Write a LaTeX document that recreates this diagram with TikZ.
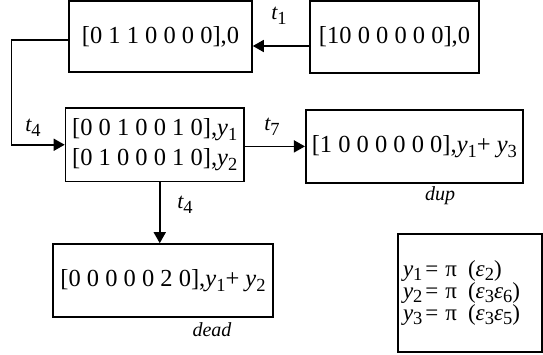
\documentclass[tikz,border=0pt]{standalone}
\usepackage{fontspec}
\setmainfont{Liberation Serif}
\usetikzlibrary{arrows.meta}
\newcommand{\sbs}[1]{\raisebox{-0.2em}{\upshape\fontsize{18.5}{18}\selectfont #1}}
\newcommand{\vy}[1]{\textit{y}\sbs{#1}}
\newcommand{\ve}[1]{\textit{ε}\sbs{#1}}
\newcommand{\eqline}[2]{\vy{#1}\hspace{3pt}=\hspace{7pt}π\hspace{11pt}(#2)}
\begin{document}
\begin{tikzpicture}[x=1pt,y=-1pt,
  box/.style={draw,line width=1.6pt,inner sep=0pt,font=\fontsize{24.5}{30}\selectfont},
  arr/.style={line width=1.6pt,-{Triangle[length=11pt,width=12pt]}},
  lbl/.style={font=\fontsize{22}{22}\selectfont\itshape},
  note/.style={font=\fontsize{20}{20}\selectfont\itshape}]
\useasboundingbox (0,0) rectangle (543,355);
\node[box,minimum width=183pt,minimum height=71pt] (A) at (160.5,36.5) {[0 1 1 0 0 0 0],0};
\node[box,minimum width=169pt,minimum height=72pt] (B) at (394.5,37) {[10 0 0 0 0 0],0};
\node[box,minimum width=178.5pt,minimum height=73.5pt,align=left] (C) at (154.75,144.75)
  {[0 0 1 0 0 1 0],\vy{1}\\{[}0 1 0 0 0 1 0],\vy{2}};
\node[box,minimum width=217.3pt,minimum height=72.7pt] (D) at (414.4,146.4)
  {\raisebox{5pt}{[1 0 0 0 0 0 0],\vy{1}+ \vy{3}}};
\node[box,minimum width=220pt,minimum height=73pt] (E) at (163,280.5)
  {\raisebox{2pt}{[0 0 0 0 0 2 0],\vy{1}+ \vy{2}}};
\node[box,minimum width=144pt,minimum height=117.7pt,inner xsep=5pt,text width=134pt,align=left,
  font=\fontsize{23}{22}\selectfont] (F) at (470,292.9)
  {\eqline{1}{\ve{2}}\\\eqline{2}{\ve{3}\ve{6}}\\\eqline{3}{\ve{3}\ve{5}}};
\coordinate (bw) at ([yshift=-9pt]B.west);
\draw[arr] (bw) -- (bw -| A.east);
\coordinate (aw) at ([yshift=-3.5pt]A.west);
\draw[arr] (aw) -- ++(-56.7,0) |- (C.west);
\draw[arr] (C.east |- D.west) -- (D.west);
\coordinate (cs) at ([xshift=5pt]C.south);
\draw[arr] (cs) -- (cs |- E.north);
\node[lbl] (t1) at (279,16) {t\sbs{1}};
\node[lbl] (t4a) at (33,128) {t\sbs{4}};
\node[lbl] (t7) at (272,127) {t\sbs{7}};
\node[lbl] (t4b) at (185,205) {t\sbs{4}};
\node[note] (dup) at (440,196) {dup};
\node[note] (dead) at (212,330) {dead};
\end{tikzpicture}
\end{document}
